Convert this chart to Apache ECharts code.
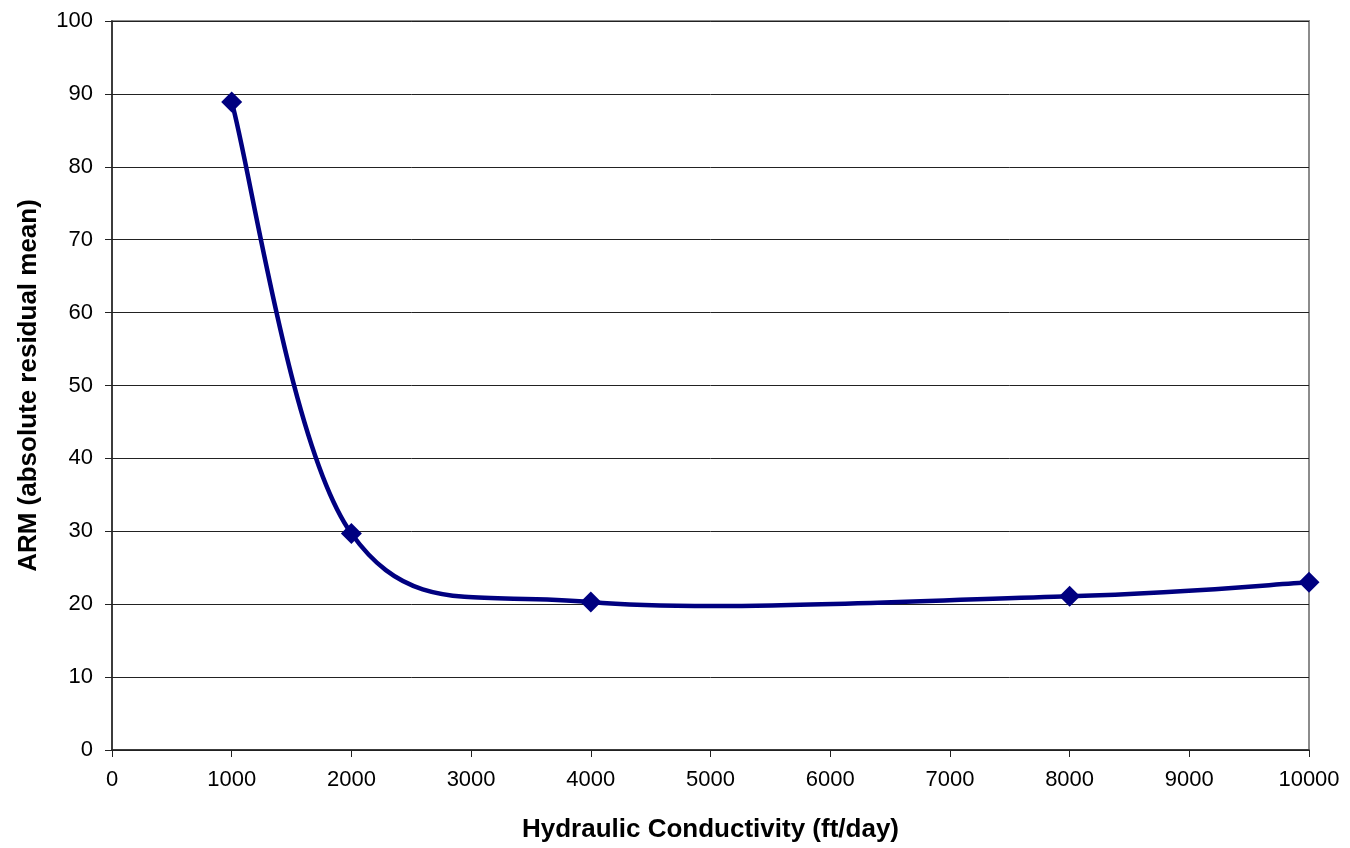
<!DOCTYPE html>
<html>
<head>
<meta charset="utf-8">
<script src="https://cdn.jsdelivr.net/npm/echarts@6/dist/echarts.min.js"></script>
<style>
  html, body { margin: 0; padding: 0; background: #fff; }
  #chart { width: 1350px; height: 848px; }
</style>
</head>
<body>
<div id="chart"></div>
<script>
// Hydraulic conductivity (ft/day) against absolute residual mean
const conductivity = [1000, 2000, 4000, 8000, 10000];
const arm = [88.9, 29.7, 20.3, 21.1, 23.0];

const xTitle = 'Hydraulic Conductivity (ft/day)';
const yTitle = 'ARM (absolute residual mean)';

const font = '"Liberation Sans", Arial, sans-serif';
const lineColor = '#000080';

// Catmull-Rom style cubic segment from point i-1 to point i (data space);
// end points reuse themselves as the missing neighbour.
function segmentControls(i) {
  const n = conductivity.length;
  const p = (j) => [conductivity[Math.max(0, Math.min(n - 1, j))], arm[Math.max(0, Math.min(n - 1, j))]];
  const p0 = p(i - 2), p1 = p(i - 1), p2 = p(i), p3 = p(i + 1);
  const c1 = [p1[0] + (p2[0] - p0[0]) / 6, p1[1] + (p2[1] - p0[1]) / 6];
  const c2 = [p2[0] - (p3[0] - p1[0]) / 6, p2[1] - (p3[1] - p1[1]) / 6];
  return [p1, c1, c2, p2];
}

const chart = echarts.init(document.getElementById('chart'));

chart.setOption({
  animation: false,
  backgroundColor: '#fff',
  grid: {
    left: 112, right: 41, top: 21, bottom: 97,
    show: true, borderColor: '#8c8c8c', borderWidth: 2
  },
  xAxis: {
    type: 'value', min: 0, max: 10000, interval: 1000,
    name: xTitle, nameLocation: 'middle', nameGap: 67,
    nameTextStyle: { fontFamily: font, fontSize: 26, fontWeight: 'bold', color: '#000' },
    axisLine: { show: true, onZero: false, lineStyle: { color: '#222', width: 1.5 } },
    axisTick: { show: true, length: 7, lineStyle: { color: '#222' } },
    axisLabel: { fontFamily: font, fontSize: 22, color: '#000', margin: 19, formatter: (v) => String(v) },
    splitLine: { show: false }
  },
  yAxis: {
    type: 'value', min: 0, max: 100, interval: 10,
    name: yTitle, nameLocation: 'middle', nameGap: 70, nameRotate: 90,
    nameTextStyle: { fontFamily: font, fontSize: 26, fontWeight: 'bold', color: '#000' },
    axisLine: { show: true, lineStyle: { color: '#222', width: 1.5 } },
    axisTick: { show: true, length: 7, lineStyle: { color: '#222' } },
    axisLabel: { fontFamily: font, fontSize: 22, color: '#000', margin: 19 },
    splitLine: { show: true, lineStyle: { color: '#222', width: 1 } }
  },
  series: [
    {
      // smoothed connecting curve, one cubic segment per data interval
      type: 'custom',
      clip: false,
      data: conductivity.map((k, i) => [k, arm[i]]),
      encode: { x: 0, y: 1 },
      z: 2,
      renderItem: (params, api) => {
        const i = params.dataIndex;
        if (i === 0) return null;
        const [a, c1, c2, b] = segmentControls(i).map((pt) => api.coord(pt));
        return {
          type: 'bezierCurve',
          shape: { x1: a[0], y1: a[1], cpx1: c1[0], cpy1: c1[1], cpx2: c2[0], cpy2: c2[1], x2: b[0], y2: b[1] },
          style: { stroke: lineColor, lineWidth: 4.5, fill: null, lineCap: 'round' }
        };
      }
    },
    {
      type: 'scatter',
      data: conductivity.map((k, i) => [k, arm[i]]),
      symbol: 'diamond',
      symbolSize: 21,
      z: 3,
      itemStyle: { color: lineColor, opacity: 1 }
    }
  ]
});
</script>
</body>
</html>
